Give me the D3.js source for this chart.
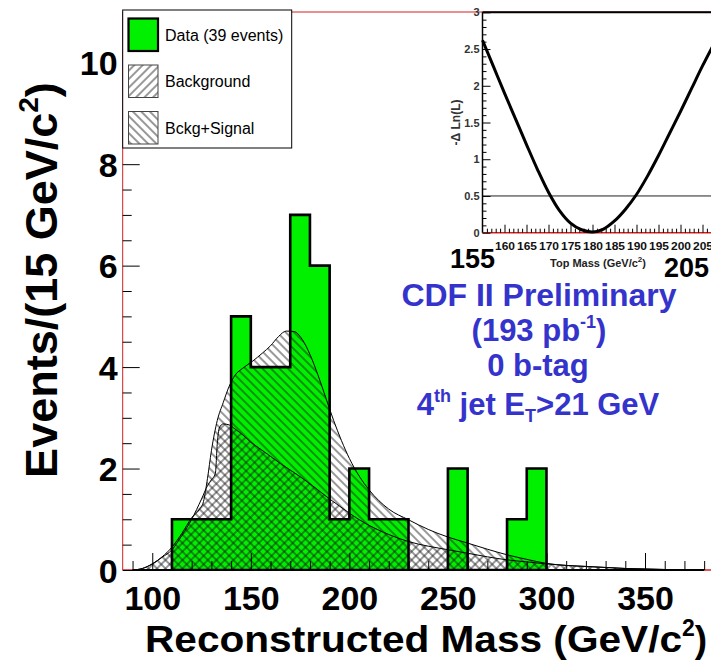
<!DOCTYPE html>
<html>
<head>
<meta charset="utf-8">
<script src="https://cdn.jsdelivr.net/npm/d3@7"></script>
<style>
  html, body { margin: 0; padding: 0; background: #fff; }
  svg { display: block; font-family: Arial, "Liberation Sans", Helvetica, sans-serif; }
</style>
</head>
<body>
<svg id="chart" width="711" height="661"></svg>
<script>
// ---- Reconstructed top mass: data histogram (10 GeV bins, lower edges) ----
const dataBinLow = [110, 120, 130, 140, 150, 160, 170, 180, 190, 200, 210, 220, 230, 240, 250, 260, 270, 280, 290];
const dataCounts = [1, 1, 1, 5, 4, 4, 7, 6, 1, 2, 1, 1, 0, 0, 2, 0, 0, 1, 2];
const binWidth = 10;

// ---- Smoothed background template ----
const bkgMass  = [90, 95, 100, 105, 110, 115, 120, 125, 128, 130, 132, 133, 134, 136, 139, 142, 146, 150, 155, 160, 165, 170, 175, 180, 185, 190, 195, 200, 210, 220, 230, 240, 250, 260, 270, 280, 290, 300, 310, 320, 330, 340, 350, 360, 370, 380];
const bkgValue = [0, 0.03, 0.12, 0.25, 0.4, 0.68, 1.0, 1.4, 1.66, 1.78, 1.9, 2.5, 2.8, 2.88, 2.86, 2.78, 2.66, 2.52, 2.38, 2.24, 2.1, 1.97, 1.84, 1.7, 1.55, 1.4, 1.26, 1.12, 0.88, 0.7, 0.56, 0.47, 0.4, 0.33, 0.26, 0.2, 0.16, 0.12, 0.09, 0.07, 0.05, 0.03, 0.02, 0.01, 0.005, 0];

// ---- Smoothed background + signal template ----
const sigMass  = [90, 95, 100, 105, 110, 115, 120, 124, 126, 128, 130, 133, 136, 139, 142, 146, 151, 156, 160, 164, 168, 172, 176, 180, 184, 188, 192, 196, 200, 205, 210, 220, 230, 240, 250, 260, 270, 280, 290, 300, 310, 320, 330, 340, 350, 360, 370, 380];
const sigValue = [0, 0.03, 0.12, 0.26, 0.45, 0.72, 1.03, 1.2, 1.35, 1.8, 2.35, 2.95, 3.3, 3.62, 3.84, 3.98, 4.12, 4.28, 4.42, 4.6, 4.71, 4.7, 4.55, 4.25, 3.85, 3.4, 2.95, 2.55, 2.2, 1.85, 1.58, 1.2, 0.99, 0.8, 0.65, 0.53, 0.41, 0.3, 0.21, 0.13, 0.09, 0.07, 0.05, 0.03, 0.02, 0.01, 0.005, 0];

// ---- Likelihood scan (inset) ----
const lnlMass  = [155, 157.5, 160, 162.5, 165, 167.5, 170, 172.5, 175, 177.5, 180, 182.5, 185, 187.5, 190, 192.5, 195, 197.5, 200, 202.5, 205, 207.5];
const lnlValue = [2.62, 2.26, 1.9, 1.55, 1.2, 0.86, 0.55, 0.3, 0.13, 0.04, 0.01, 0.05, 0.16, 0.32, 0.52, 0.77, 1.05, 1.35, 1.65, 1.96, 2.27, 2.56];

// ---- Tick values ----
const xMajorTicks = [100, 150, 200, 250, 300, 350];
const xMinorTicks = [90, 110, 120, 130, 140, 160, 170, 180, 190, 210, 220, 230, 240, 260, 270, 280, 290, 310, 320, 330, 340, 360, 370, 380];
const yMajorTicks = [0, 2, 4, 6, 8, 10];
const yMinorTicks = [0.5, 1, 1.5, 2.5, 3, 3.5, 4.5, 5, 5.5, 6.5, 7, 7.5, 8.5, 9, 9.5, 10.5];
const insetXMajor = [160, 165, 170, 175, 180, 185, 190, 195, 200, 205];
const insetXMinor = d3.range(156, 210, 1).filter(v => v % 5 !== 0);
const insetYMajor = [0, 0.5, 1, 1.5, 2, 2.5, 3];
const insetYMinor = d3.range(0.1, 3, 0.1).map(v => +v.toFixed(1)).filter(v => Math.abs(v * 2 - Math.round(v * 2)) > 1e-6);

const legendLabels = ["Data (39 events)", "Background", "Bckg+Signal"];

const GREEN = "#00f000";
const BLUE = "#3434cc";
const FRAME_RED = "#d42020";

const svg = d3.select("#chart");

// ---- Hatch patterns ----
const defs = svg.append("defs");
function hatch(id, angle) {
  const p = defs.append("pattern")
    .attr("id", id)
    .attr("patternUnits", "userSpaceOnUse")
    .attr("width", 6).attr("height", 6)
    .attr("patternTransform", `rotate(${angle})`);
  p.append("line")
    .attr("x1", 3).attr("y1", -1).attr("x2", 3).attr("y2", 7)
    .attr("stroke", "#1a1a1a").attr("stroke-width", 0.9);
}
hatch("hatchFwd", 45);   // "///"
hatch("hatchBack", -45); // "\\\"

// ---- Main frame scales ----
const x = d3.scaleLinear().domain([85, 385]).range([122.7, 714]);
const y = d3.scaleLinear().domain([0, 11]).range([570, 12]);

defs.append("clipPath").attr("id", "mainClip")
  .append("rect").attr("x", x(85)).attr("y", y(11)).attr("width", x(385) - x(85)).attr("height", y(0) - y(11));

const plot = svg.append("g").attr("clip-path", "url(#mainClip)");

// Data histogram as a single step outline (fill and stroke share the same path)
const bins = dataBinLow.map((lo, i) => ({ lo, hi: lo + binWidth, n: dataCounts[i] }));
let step = `M${x(bins[0].lo)},${y(0)}`;
bins.forEach(b => { step += `L${x(b.lo)},${y(b.n)}L${x(b.hi)},${y(b.n)}`; });
step += `L${x(bins[bins.length - 1].hi)},${y(0)}Z`;
plot.append("path").attr("d", step).attr("fill", GREEN).attr("stroke", "none");

// Template curves
const sigPts = sigMass.map((m, i) => [m, sigValue[i]]);
const bkgPts = bkgMass.map((m, i) => [m, bkgValue[i]]);
const area = d3.area().x(d => x(d[0])).y0(y(0)).y1(d => y(d[1])).curve(d3.curveMonotoneX);
const line = d3.line().x(d => x(d[0])).y(d => y(d[1])).curve(d3.curveMonotoneX);

plot.append("path").attr("d", area(sigPts)).attr("fill", "url(#hatchBack)");
plot.append("path").attr("d", area(bkgPts)).attr("fill", "url(#hatchFwd)");
plot.append("path").attr("d", line(sigPts)).attr("fill", "none").attr("stroke", "#000").attr("stroke-width", 1);
plot.append("path").attr("d", line(bkgPts)).attr("fill", "none").attr("stroke", "#000").attr("stroke-width", 1);

plot.append("path").attr("d", step).attr("fill", "none")
  .attr("stroke", "#000").attr("stroke-width", 2.6).attr("stroke-linejoin", "miter");

// Frame
const frame = svg.append("g");
frame.append("line").attr("x1", x(85)).attr("x2", x(85)).attr("y1", y(11)).attr("y2", y(0))
  .attr("stroke", FRAME_RED).attr("stroke-width", 1);
frame.append("line").attr("x1", x(85)).attr("x2", x(385)).attr("y1", y(11)).attr("y2", y(11))
  .attr("stroke", FRAME_RED).attr("stroke-width", 1.2);
frame.append("line").attr("x1", x(85)).attr("x2", x(385)).attr("y1", y(0)).attr("y2", y(0))
  .attr("stroke", FRAME_RED).attr("stroke-width", 1.5);
// histogram baseline
svg.append("line").attr("x1", x(90)).attr("x2", x(380)).attr("y1", y(0)).attr("y2", y(0))
  .attr("stroke", "#000").attr("stroke-width", 2.2);

// ---- Axes ----
function styleAxis(g) {
  g.select(".domain").remove();
  g.selectAll(".tick line").attr("stroke", "#000").attr("stroke-width", 1);
}
const bigFont = 34;

svg.append("g").attr("transform", `translate(0,${y(0)})`)
  .call(d3.axisBottom(x).tickValues(xMinorTicks).tickSize(-9).tickFormat(""))
  .call(styleAxis);
svg.append("g").attr("transform", `translate(0,${y(0)})`)
  .call(d3.axisBottom(x).tickValues(xMajorTicks).tickSize(-17).tickPadding(16).tickFormat(d3.format("d")))
  .call(styleAxis)
  .call(g => g.selectAll("text").attr("font-size", bigFont).attr("font-weight", "bold")
    .attr("font-family", "Arial, 'Liberation Sans', sans-serif").attr("fill", "#000"));

svg.append("g").attr("transform", `translate(${x(85)},0)`)
  .call(d3.axisLeft(y).tickValues(yMinorTicks).tickSize(-9).tickFormat(""))
  .call(styleAxis);
svg.append("g").attr("transform", `translate(${x(85)},0)`)
  .call(d3.axisLeft(y).tickValues(yMajorTicks).tickSize(-17).tickPadding(5).tickFormat(d3.format("d")))
  .call(styleAxis)
  .call(g => g.selectAll("text").attr("font-size", bigFont).attr("font-weight", "bold")
    .attr("font-family", "Arial, 'Liberation Sans', sans-serif").attr("fill", "#000").attr("dy", "0.36em"));

// Axis titles
const xt = svg.append("text").attr("x", 145).attr("y", 652)
  .attr("font-size", 37).attr("font-weight", "bold").attr("fill", "#000");
xt.append("tspan").attr("textLength", 537).attr("lengthAdjust", "spacingAndGlyphs").text("Reconstructed Mass (GeV/c");
xt.append("tspan").attr("font-size", 23).attr("dy", -16).text("2");
xt.append("tspan").attr("dy", 16).text(")");

const yt = svg.append("text").attr("transform", "translate(57,280) rotate(-90)").attr("text-anchor", "middle")
  .attr("font-size", 45).attr("font-weight", "bold").attr("fill", "#000");
yt.append("tspan").text("Events/(15 GeV/c");
yt.append("tspan").attr("font-size", 28).attr("dy", -19).text("2");
yt.append("tspan").attr("dy", 19).text(")");

// ---- Legend ----
const lg = svg.append("g");
lg.append("rect").attr("x", 122.7).attr("y", 10).attr("width", 169).attr("height", 138)
  .attr("fill", "#fff").attr("stroke", "#000").attr("stroke-width", 1);
const swatches = [
  { y: 18.5, fill: GREEN, stroke: "#000", sw: 2.2 },
  { y: 65, fill: "url(#hatchFwd)", stroke: "#444", sw: 1 },
  { y: 111.5, fill: "url(#hatchBack)", stroke: "#444", sw: 1 }
];
swatches.forEach((s, i) => {
  lg.append("rect").attr("x", 128.5).attr("y", s.y).attr("width", 29.5).attr("height", 32.5)
    .attr("fill", s.fill).attr("stroke", s.stroke).attr("stroke-width", s.sw);
  lg.append("text").attr("x", 165).attr("y", s.y + 22).attr("font-size", 16).attr("fill", "#000")
    .text(legendLabels[i]);
});

// ---- Annotation ----
const annFont = 31;
const ann = svg.append("g").attr("fill", BLUE).attr("font-weight", "bold").attr("text-anchor", "middle");
ann.append("text").attr("x", 539).attr("y", 306).attr("font-size", annFont).attr("textLength", 275)
  .attr("lengthAdjust", "spacingAndGlyphs").text("CDF II Preliminary");
const l2 = ann.append("text").attr("x", 539).attr("y", 341).attr("font-size", annFont);
l2.append("tspan").text("(193 pb");
l2.append("tspan").attr("font-size", 18).attr("dy", -13).text("-1");
l2.append("tspan").attr("dy", 13).text(")");
ann.append("text").attr("x", 538).attr("y", 376).attr("font-size", annFont).text("0 b-tag");
const l4 = ann.append("text").attr("x", 538).attr("y", 415).attr("font-size", annFont);
l4.append("tspan").text("4");
l4.append("tspan").attr("font-size", 18).attr("dy", -13).text("th");
l4.append("tspan").attr("dy", 13).text(" jet E");
l4.append("tspan").attr("font-size", 18).attr("dy", 7).text("T");
l4.append("tspan").attr("dy", -7).text(">21 GeV");

// ---- Inset: likelihood scan ----
const ix = d3.scaleLinear().domain([155, 210]).range([482.5, 724.5]);
const iy = d3.scaleLinear().domain([0, 3]).range([232.7, 12.3]);
const inset = svg.append("g");
inset.append("rect").attr("x", ix(155)).attr("y", iy(3)).attr("width", ix(210) - ix(155)).attr("height", iy(0) - iy(3))
  .attr("fill", "#fff");
// 0.5 reference line
inset.append("line").attr("x1", ix(155)).attr("x2", ix(210)).attr("y1", iy(0.5)).attr("y2", iy(0.5))
  .attr("stroke", "#222").attr("stroke-width", 1);
// frame lines
inset.append("line").attr("x1", ix(155)).attr("x2", ix(210)).attr("y1", iy(3)).attr("y2", iy(3))
  .attr("stroke", "#000").attr("stroke-width", 2);
inset.append("line").attr("x1", ix(155)).attr("x2", ix(210)).attr("y1", iy(0)).attr("y2", iy(0))
  .attr("stroke", FRAME_RED).attr("stroke-width", 1.5);
inset.append("line").attr("x1", ix(155)).attr("x2", ix(155)).attr("y1", iy(3)).attr("y2", iy(0))
  .attr("stroke", "#000").attr("stroke-width", 1.5);

const smallFont = 11;
inset.append("g").attr("transform", `translate(0,${iy(0)})`)
  .call(d3.axisBottom(ix).tickValues(insetXMinor).tickSize(-4).tickFormat(""))
  .call(styleAxis);
inset.append("g").attr("transform", `translate(0,${iy(0)})`)
  .call(d3.axisBottom(ix).tickValues(insetXMajor).tickSize(-8).tickPadding(10).tickFormat(d3.format("d")))
  .call(styleAxis)
  .call(g => g.selectAll("text").attr("font-size", smallFont).attr("font-weight", "bold")
    .attr("font-family", "Arial, 'Liberation Sans', sans-serif").attr("fill", "#111")
    .attr("textLength", 20).attr("lengthAdjust", "spacingAndGlyphs"));
inset.append("g").attr("transform", `translate(${ix(155)},0)`)
  .call(d3.axisLeft(iy).tickValues(insetYMinor).tickSize(-4).tickFormat(""))
  .call(styleAxis);
inset.append("g").attr("transform", `translate(${ix(155)},0)`)
  .call(d3.axisLeft(iy).tickValues(insetYMajor).tickSize(-8).tickPadding(3).tickFormat(d3.format("")))
  .call(styleAxis)
  .call(g => g.selectAll("text").attr("font-size", smallFont).attr("font-weight", "bold")
    .attr("font-family", "Arial, 'Liberation Sans', sans-serif").attr("fill", "#333"));

const lnlPts = lnlMass.map((m, i) => [m, lnlValue[i]]);
inset.append("path")
  .attr("d", d3.line().x(d => ix(d[0])).y(d => iy(d[1])).curve(d3.curveCatmullRom)(lnlPts))
  .attr("fill", "none").attr("stroke", "#000").attr("stroke-width", 3);

// inset titles
inset.append("text").attr("transform", `translate(460,${iy(1.5)}) rotate(-90)`).attr("text-anchor", "middle")
  .attr("font-size", 12).attr("font-weight", "bold").attr("fill", "#333").text("-\u0394 Ln(L)");
const it = inset.append("text").attr("x", 598).attr("y", 267).attr("text-anchor", "middle")
  .attr("font-size", 11).attr("font-weight", "bold").attr("fill", "#222");
it.append("tspan").text("Top Mass (GeV/c");
it.append("tspan").attr("font-size", 8).attr("dy", -5).text("2");
it.append("tspan").attr("dy", 5).text(")");

svg.append("text").attr("x", 472.5).attr("y", 268).attr("text-anchor", "middle")
  .attr("font-size", 27).attr("font-weight", "bold").attr("fill", "#000").text("155");
svg.append("text").attr("x", 709).attr("y", 277).attr("text-anchor", "end")
  .attr("font-size", 27).attr("font-weight", "bold").attr("fill", "#000").text("205");
</script>
</body>
</html>
